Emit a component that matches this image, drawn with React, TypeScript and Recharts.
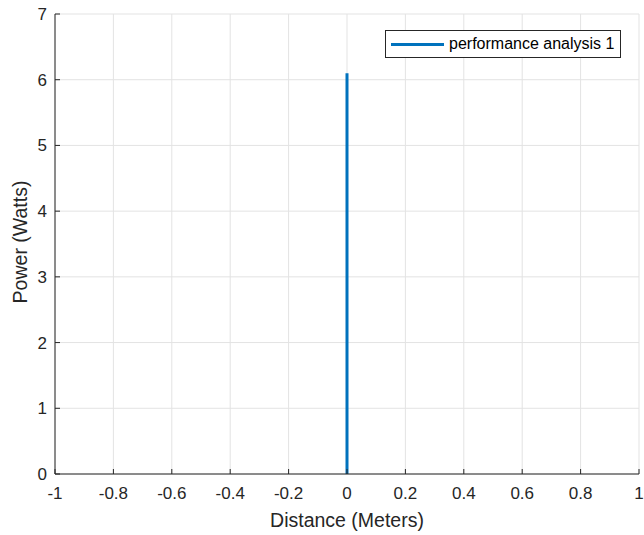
import React from "react";
import { LineChart, Line, XAxis, YAxis, CartesianGrid } from "recharts";

const xValues = [0, 0];
const powerValues = [0, 6.1];
const xTicks = [-1, -0.8, -0.6, -0.4, -0.2, 0, 0.2, 0.4, 0.6, 0.8, 1];
const yTicks = [0, 1, 2, 3, 4, 5, 6, 7];
const seriesName = "performance analysis 1";
const xLabel = "Distance (Meters)";
const yLabel = "Power (Watts)";

const data = xValues.map((x, i) => ({ x, power: powerValues[i] }));

const FONT = "'Liberation Sans', Arial, Helvetica, sans-serif";
const TEXT = "#262626";
const BLUE = "#0072BD";

const XTick = (props: any) => {
  const { x, y, payload } = props;
  const axisY = y - 12;
  return (
    <g>
      <line x1={x} x2={x} y1={axisY} y2={axisY - 5} stroke={TEXT} strokeWidth={1} />
      <text x={x} y={axisY + 25} textAnchor="middle" fill={TEXT} fontSize={17} fontFamily={FONT}>
        {String(payload.value)}
      </text>
    </g>
  );
};

const YTick = (props: any) => {
  const { x, y, payload } = props;
  const axisX = x + 9;
  return (
    <g>
      <line x1={axisX} x2={axisX + 5} y1={y} y2={y} stroke={TEXT} strokeWidth={1} />
      <text x={x + 1} y={y + 6} textAnchor="end" fill={TEXT} fontSize={17} fontFamily={FONT}>
        {String(payload.value)}
      </text>
    </g>
  );
};

const XLabel = (props: any) => {
  const vb = props.viewBox || { x: 55, y: 474, width: 584, height: 61 };
  return (
    <text
      x={vb.x + vb.width / 2}
      y={vb.y + 53}
      textAnchor="middle"
      fill={TEXT}
      fontSize={19.5}
      fontFamily={FONT}
    >
      {xLabel}
    </text>
  );
};

const YLabel = (props: any) => {
  const vb = props.viewBox || { x: 0, y: 14, width: 55, height: 460 };
  const cx = vb.x + 27;
  const cy = vb.y + vb.height / 2 - 2;
  return (
    <text
      x={cx}
      y={cy}
      transform={`rotate(-90, ${cx}, ${cy})`}
      textAnchor="middle"
      fill={TEXT}
      fontSize={19.5}
      fontFamily={FONT}
    >
      {yLabel}
    </text>
  );
};

export default function App() {
  return (
    <div style={{ position: "absolute", left: 0, top: 0, width: 644, height: 535, background: "#fff" }}>
      <LineChart
        width={644}
        height={535}
        data={data}
        margin={{ top: 14, right: 5, bottom: 0, left: 0 }}
      >
        <CartesianGrid stroke="#e3e3e3" strokeWidth={1} />
        <XAxis
          dataKey="x"
          type="number"
          domain={[-1, 1]}
          ticks={xTicks}
          interval={0}
          height={61}
          axisLine={{ stroke: TEXT }}
          tickLine={false}
          tickSize={0}
          tickMargin={12}
          tick={<XTick />}
          label={<XLabel />}
        />
        <YAxis
          type="number"
          domain={[0, 7]}
          ticks={yTicks}
          interval={0}
          width={55}
          axisLine={{ stroke: TEXT }}
          tickLine={false}
          tickSize={0}
          tickMargin={9}
          tick={<YTick />}
          label={<YLabel />}
        />
        <Line
          dataKey="power"
          name={seriesName}
          type="linear"
          stroke={BLUE}
          strokeWidth={3}
          dot={false}
          isAnimationActive={false}
        />
      </LineChart>
      <div
        style={{
          position: "absolute",
          left: 385,
          top: 30,
          width: 234,
          height: 26,
          border: `1px solid ${TEXT}`,
          background: "#fff",
          display: "flex",
          alignItems: "center",
          fontFamily: FONT,
          fontSize: 16,
          color: "#000",
          boxSizing: "content-box",
          whiteSpace: "nowrap",
        }}
      >
        <div style={{ width: 53, height: 3, background: BLUE, marginLeft: 5, marginRight: 5, flexShrink: 0 }} />
        <span>{seriesName}</span>
      </div>
    </div>
  );
}
